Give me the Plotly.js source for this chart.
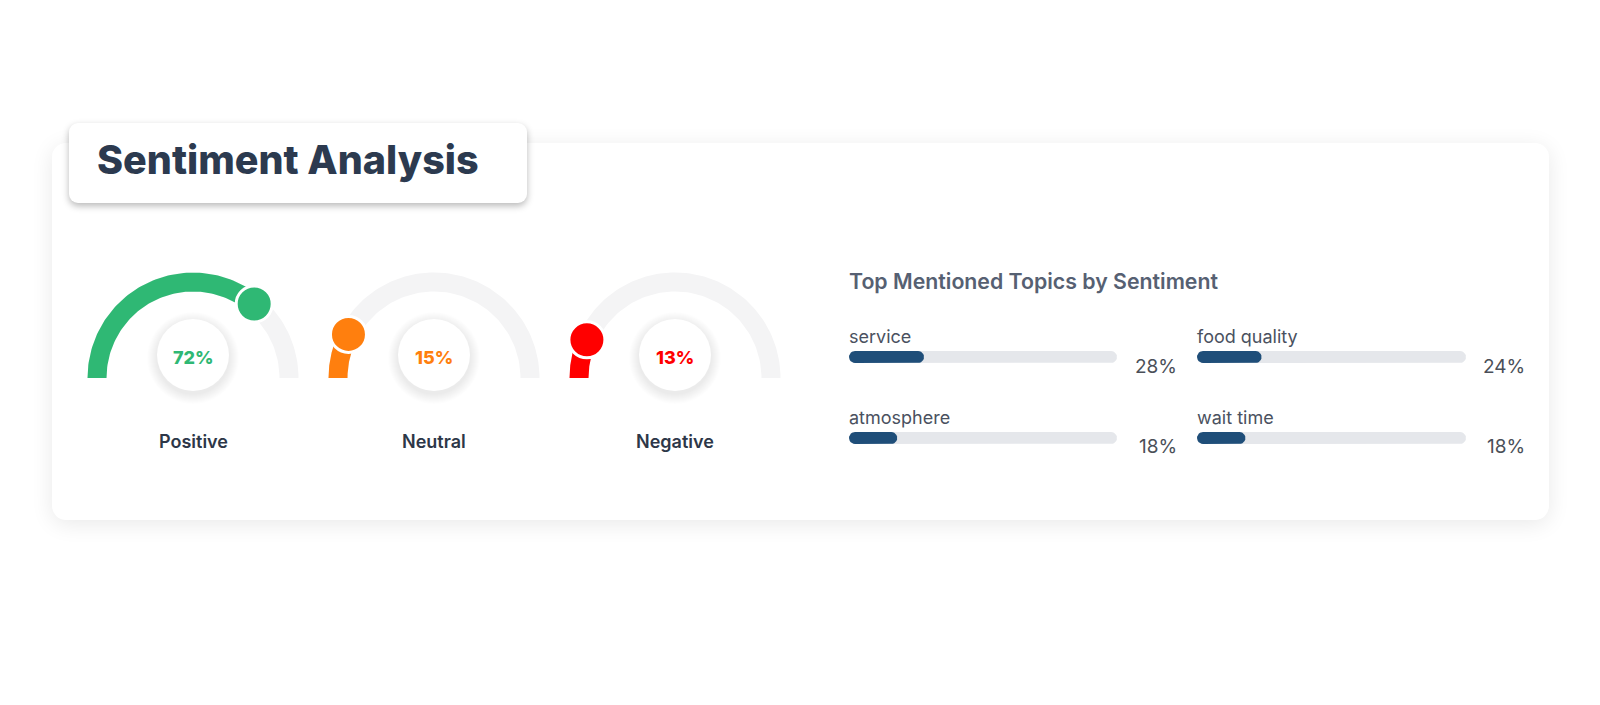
<!DOCTYPE html>
<html>
<head>
<meta charset="utf-8">
<script src="https://cdn.plot.ly/plotly-3.0.1.min.js"></script>
<style>
  html, body { margin: 0; padding: 0; background: #ffffff; width: 1600px; height: 705px; overflow: hidden; }
  #card { position: absolute; left: 52px; top: 143px; width: 1497px; height: 377px; background: #fff;
          border-radius: 14px; box-shadow: 0 4px 22px rgba(0,0,0,0.09); }
  #titlebox { position: absolute; left: 69px; top: 123px; width: 458px; height: 80px; background: #fff;
          border-radius: 9px; box-shadow: 0 3px 7px rgba(0,0,0,0.28); }
  #chart { position: absolute; left: 0; top: 0; width: 1600px; height: 705px; }
</style>
</head>
<body>
<div id="card"></div>
<div id="titlebox"></div>
<div id="chart"></div>
<script>
// ---- data ----
const chartTitle = 'Sentiment Analysis';
const sentimentLabels = ['Positive', 'Neutral', 'Negative'];
const sentimentValues = [72, 15, 13];
const topicsTitle = 'Top Mentioned Topics by Sentiment';
const topicLabels = ['service', 'food quality', 'atmosphere', 'wait time'];
const topicValues = [28, 24, 18, 18];

// ---- styles / layout ----
const sentimentColors = ['#2fb874', '#ff7f0e', '#ff0000'];
const gaugeCX = [193, 434, 675];
const gaugeCY = 378;
const rIn = 86.5, rOut = 105.5, rMid = 96;
const trackColor = '#f4f4f5';
const barTrack = '#e5e7eb', barFill = '#1f4e79';
const FONT = 'Inter, "Noto Sans", sans-serif';

const traces = [];
const shapes = [];
const annotations = [];

function arcPoly(cx, cy, r1, r2, a0, a1, n) {
  const xs = [], ys = [];
  for (let i = 0; i <= n; i++) {
    const a = (a0 + (a1 - a0) * i / n) * Math.PI / 180;
    xs.push(cx + r2 * Math.cos(a)); ys.push(cy - r2 * Math.sin(a));
  }
  for (let i = n; i >= 0; i--) {
    const a = (a0 + (a1 - a0) * i / n) * Math.PI / 180;
    xs.push(cx + r1 * Math.cos(a)); ys.push(cy - r1 * Math.sin(a));
  }
  xs.push(xs[0]); ys.push(ys[0]);
  return {xs, ys};
}

function roundRect(x0, x1, yc, h) {
  const r = h / 2, xs = [], ys = [];
  const n = 12;
  if (x1 - x0 < h) x1 = x0 + h;
  for (let i = 0; i <= n; i++) { const a = Math.PI / 2 + Math.PI * i / n; xs.push(x0 + r + r * Math.cos(a)); ys.push(yc - r * Math.sin(a)); }
  for (let i = 0; i <= n; i++) { const a = -Math.PI / 2 + Math.PI * i / n; xs.push(x1 - r + r * Math.cos(a)); ys.push(yc - r * Math.sin(a)); }
  xs.push(xs[0]); ys.push(ys[0]);
  return {xs, ys};
}

function poly(p, color) {
  return {x: p.xs, y: p.ys, type: 'scatter', mode: 'lines', fill: 'toself', fillcolor: color,
          line: {width: 0, color: color}, hoverinfo: 'skip', showlegend: false};
}

// gauges
sentimentValues.forEach((v, i) => {
  const cx = gaugeCX[i];
  traces.push(poly(arcPoly(cx, gaugeCY, rIn, rOut, 180, 0, 90), trackColor));
  const endA = 180 - 180 * v / 100;
  traces.push(poly(arcPoly(cx, gaugeCY, rIn, rOut, 180, endA, 90), sentimentColors[i]));
  const ka = endA * Math.PI / 180;
  traces.push({x: [cx + rMid * Math.cos(ka)], y: [gaugeCY - rMid * Math.sin(ka)], type: 'scatter', mode: 'markers',
    marker: {size: 36, color: sentimentColors[i], line: {color: '#ffffff', width: 3}}, hoverinfo: 'skip', showlegend: false});
  // centre disc with soft shadow
  const ccx = cx, ccy = 355, cr = 36;
  for (let k = 10; k >= 1; k--) {
    shapes.push({type: 'circle', xref: 'x', yref: 'y', x0: ccx - cr - k, x1: ccx + cr + k, y0: ccy + 3 - cr - k, y1: ccy + 3 + cr + k,
      fillcolor: 'rgba(0,0,0,0.0065)', line: {width: 0}});
  }
  shapes.push({type: 'circle', xref: 'x', yref: 'y', x0: ccx - cr, x1: ccx + cr, y0: ccy - cr, y1: ccy + cr,
    fillcolor: '#ffffff', line: {width: 0}});
  annotations.push({x: ccx, y: 357, xref: 'x', yref: 'y', text: v + '%', showarrow: false, xanchor: 'center', yanchor: 'middle',
    font: {family: FONT, size: 18, weight: 800, color: sentimentColors[i]}});
  annotations.push({x: cx, y: 441, xref: 'x', yref: 'y', text: sentimentLabels[i], showarrow: false, xanchor: 'center', yanchor: 'middle',
    font: {family: FONT, size: 18, weight: 600, color: '#2d3748'}});
});

// topics
const colX = [849, 1197];
const trackEnd = [1117, 1466];
const pctRight = [1179, 1527];
const rowBarY = [357, 438];
const rowLabelY = [336, 417];
const rowPctY = [366, 446];
topicLabels.forEach((t, i) => {
  const c = i % 2, r = Math.floor(i / 2);
  const x0 = colX[c], x1 = trackEnd[c];
  traces.push(poly(roundRect(x0, x1, rowBarY[r], 12), barTrack));
  traces.push(poly(roundRect(x0, x0 + (x1 - x0) * topicValues[i] / 100, rowBarY[r], 12), barFill));
  annotations.push({x: x0 - 2, y: rowLabelY[r], xref: 'x', yref: 'y', text: t, showarrow: false, xanchor: 'left', yanchor: 'middle',
    font: {family: FONT, size: 18, weight: 400, color: '#4a5160'}});
  annotations.push({x: pctRight[c], y: rowPctY[r], xref: 'x', yref: 'y', text: topicValues[i] + '%', showarrow: false, xanchor: 'right', yanchor: 'middle',
    font: {family: FONT, size: 19, weight: 400, color: '#4a4f58'}});
});

annotations.push({x: 847, y: 281, xref: 'x', yref: 'y', text: topicsTitle, showarrow: false, xanchor: 'left', yanchor: 'middle',
  font: {family: FONT, size: 21.3, weight: 600, color: '#566072'}});
annotations.push({x: 95, y: 160, xref: 'x', yref: 'y', text: chartTitle, showarrow: false, xanchor: 'left', yanchor: 'middle',
  font: {family: FONT, size: 39.5, weight: 800, color: '#2c3a4f'}});

const layout = {
  width: 1600, height: 705,
  margin: {l: 0, r: 0, t: 0, b: 0, pad: 0},
  paper_bgcolor: 'rgba(0,0,0,0)', plot_bgcolor: 'rgba(0,0,0,0)',
  xaxis: {range: [0, 1600], visible: false, fixedrange: true},
  yaxis: {range: [705, 0], visible: false, fixedrange: true},
  shapes: shapes, annotations: annotations, showlegend: false
};
Plotly.newPlot('chart', traces, layout, {staticPlot: true, displayModeBar: false});
</script>
</body>
</html>
